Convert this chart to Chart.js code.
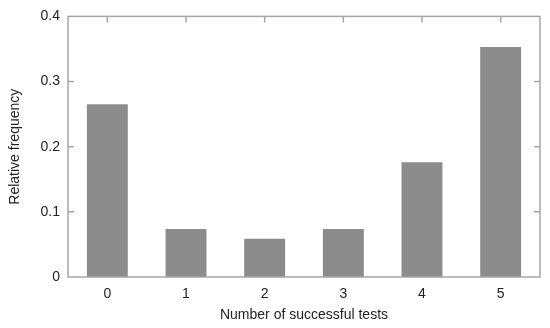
<!DOCTYPE html>
<html>
<head>
<meta charset="utf-8">
<script src="https://cdn.jsdelivr.net/npm/chart.js@4.4.0/dist/chart.umd.min.js"></script>
<style>
  html, body { margin: 0; padding: 0; background: #fff; }
  #wrap { width: 550px; height: 328px; }
</style>
</head>
<body>
<div id="wrap"><canvas id="chart"></canvas></div>
<script>
const categories = ['0', '1', '2', '3', '4', '5'];
const frequencies = [0.265, 0.0735, 0.0588, 0.0735, 0.176, 0.353];
const yTicks = [0, 0.1, 0.2, 0.3, 0.4];

const axisColor = '#a6a6a6';
const barColor = '#8c8c8c';

// box round the plot with short inside ticks (left/right on y, top on x)
const frameTicks = {
    id: 'frameTicks',
    afterDatasetsDraw(chart) {
        const { ctx, chartArea: a, scales } = chart;
        ctx.save();
        ctx.strokeStyle = axisColor;
        ctx.lineWidth = 1.5;
        ctx.strokeRect(a.left, a.top, a.right - a.left, a.bottom - a.top);
        ctx.beginPath();
        yTicks.forEach(v => {
            const y = scales.y.getPixelForValue(v);
            if (v === 0 || v === 0.4) return;
            ctx.moveTo(a.left, y); ctx.lineTo(a.left + 6, y);
            ctx.moveTo(a.right, y); ctx.lineTo(a.right - 6, y);
        });
        categories.forEach((c, i) => {
            const x = scales.x.getPixelForValue(i);
            ctx.moveTo(x, a.top); ctx.lineTo(x, a.top + 6);
        });
        ctx.stroke();
        ctx.restore();
    }
};

new Chart(document.getElementById('chart'), {
    type: 'bar',
    data: {
        labels: categories,
        datasets: [{
            data: frequencies,
            backgroundColor: barColor,
            borderWidth: 0,
            categoryPercentage: 1,
            barPercentage: 0.52
        }]
    },
    options: {
        responsive: true,
        maintainAspectRatio: false,
        animation: false,
        layout: { padding: { top: 13, right: 10, left: 0, bottom: 0 } },
        plugins: { legend: { display: false }, tooltip: { enabled: false } },
        scales: {
            x: {
                grid: { display: false, drawTicks: false },
                border: { display: false },
                ticks: { color: '#222', font: { family: 'Liberation Sans', size: 14 }, padding: 9 },
                title: {
                    display: true, text: 'Number of successful tests', color: '#222',
                    font: { family: 'Liberation Sans', size: 14 }, padding: { top: 7 }
                },
                afterFit(scale) { scale.height = 51; }
            },
            y: {
                min: 0, max: 0.4,
                grid: { display: false, drawTicks: false },
                border: { display: false },
                afterBuildTicks(scale) { scale.ticks = yTicks.map(v => ({ value: v })); },
                ticks: {
                    color: '#222', font: { family: 'Liberation Sans', size: 14 }, padding: 8,
                    callback: v => v === 0 ? '0' : String(v)
                },
                title: {
                    display: true, text: 'Relative frequency', color: '#222',
                    font: { family: 'Liberation Sans', size: 14 }, padding: { top: 7, bottom: 4 }
                },
                afterFit(scale) { scale.width = 68; }
            }
        }
    },
    plugins: [frameTicks]
});
</script>
</body>
</html>
